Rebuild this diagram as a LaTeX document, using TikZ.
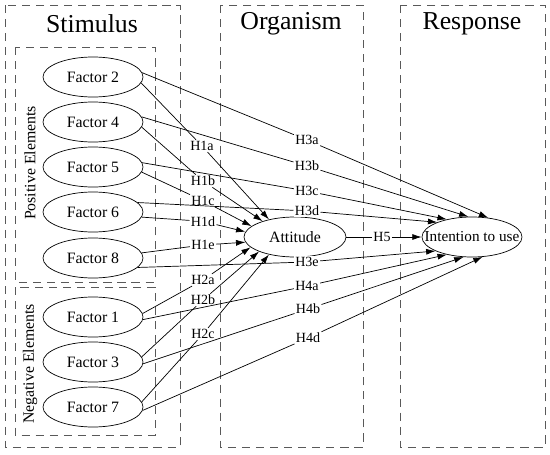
\documentclass[tikz,border=0pt]{standalone}
\usepackage{fontspec}
\setmainfont{Liberation Serif}
\usetikzlibrary{positioning,shapes.geometric,arrows.meta}

\begin{document}
\begin{tikzpicture}[>={Latex[length=2.8mm,width=1.8mm]},
    factor/.style={ellipse, draw, line width=0.6pt, minimum width=3cm, minimum height=1.2cm, inner sep=0pt, font=\fontsize{13.5}{16}\selectfont},
    hyp/.style={fill=white, inner sep=1pt, font=\fontsize{12}{14}\selectfont},
    region/.style={draw=black!65, dash pattern=on 7pt off 5pt, line width=0.7pt},
    heading/.style={font=\fontsize{22}{26}\selectfont},
    link/.style={->, line width=0.6pt}]
\useasboundingbox (0,0) rectangle (16.5,-13.65);

% Dashed regions
\draw [region] (0.15,-0.15) rectangle (5.4,-13.41);
\draw [region] (6.6,-0.15) rectangle (10.89,-13.41);
\draw [region] (12.0,-0.15) rectangle (16.35,-13.41);
\draw [region] (0.45,-1.41) rectangle (4.65,-8.46);
\draw [region] (0.45,-8.61) rectangle (4.65,-13.05);

% Headings
\node (stimulus) [heading] at (2.76,-0.72) {Stimulus};
\node (organism) [heading] at (8.73,-0.72) {Organism};
\node (response) [heading] at (14.16,-0.72) {Response};

\node (positive) [rotate=90, font=\fontsize{13.5}{16}\selectfont] at (0.9,-4.89) {Positive Elements};
\node (negative) [rotate=90, font=\fontsize{13.5}{16}\selectfont] at (0.9,-10.92) {Negative Elements};

% Main nodes
\node (f2) [factor] at (2.79,-2.31) {Factor 2};
\node (f4) [factor] at (2.79,-3.66) {Factor 4};
\node (f5) [factor] at (2.79,-5.01) {Factor 5};
\node (f6) [factor] at (2.79,-6.36) {Factor 6};
\node (f8) [factor] at (2.79,-7.74) {Factor 8};
\node (f1) [factor] at (2.79,-9.51) {Factor 1};
\node (f3) [factor] at (2.79,-10.86) {Factor 3};
\node (f7) [factor] at (2.79,-12.21) {Factor 7};

\node (att) [factor, minimum width=3.06cm] at (8.85,-7.11) {Attitude};
\node (int) [factor, label={[font=\fontsize{13}{15}\selectfont]center:Intention to use}] at (14.16,-7.11) {};

% Hypothesis labels
\node (h1a) [hyp] at (6.06,-4.38) {H1a};
\node (h1b) [hyp] at (6.09,-5.43) {H1b};
\node (h1c) [hyp] at (6.09,-6.02) {H1c};
\node (h1d) [hyp] at (6.09,-6.64) {H1d};
\node (h1e) [hyp] at (6.09,-7.35) {H1e};
\node (h2a) [hyp] at (6.09,-8.4) {H2a};
\node (h2b) [hyp] at (6.09,-9.0) {H2b};
\node (h2c) [hyp] at (6.09,-10.02) {H2c};

\node (h3a) [hyp] at (9.21,-4.2) {H3a};
\node (h3b) [hyp] at (9.21,-4.98) {H3b};
\node (h3c) [hyp] at (9.21,-5.73) {H3c};
\node (h3d) [hyp] at (9.21,-6.33) {H3d};
\node (h3e) [hyp] at (9.21,-7.86) {H3e};
\node (h4a) [hyp] at (9.21,-8.58) {H4a};
\node (h4b) [hyp] at (9.24,-9.27) {H4b};
\node (h4d) [hyp] at (9.24,-10.14) {H4d};
\node (h5) [hyp] at (11.46,-7.11) {H5};

% Stimulus -> Attitude
\draw [link] (f2.-7) -- (h1a) -- (att.146);
\draw [link] (f4.-6) -- (h1b) -- (att.154);
\draw [link] (f5.-6) -- (h1c) -- (att.166);
\draw [link] (f6.-6) -- (h1d) -- (att.174);
\draw [link] (f8.6) -- (h1e) -- (att.186);
\draw [link] (f1.4) -- (h2a) -- (att.193);
\draw [link] (f3.6) -- (h2b) -- (att.202);
\draw [link] (f7.6) -- (h2c) -- (att.214);

% Stimulus -> Intention to use
\draw [link] (f2.5) -- (h3a) -- (int.50);
\draw [link] (f4.6) -- (h3b) -- (int.100);
\draw [link] (f5.5) -- (h3c) -- (int.145);
\draw [link] (f6.12) -- (h3d) -- (int.157);
\draw [link] (f8.-12) -- (h3e) -- (int.201);
\draw [link] (f1.-3) -- (h4a) -- (int.215);
\draw [link] (f3.-2) -- (h4b) -- (int.247);
\draw [link] (f7.-4) -- (h4d) -- (int.298);

% Attitude -> Intention to use
\draw [link] (att) -- (h5) -- (int);
\end{tikzpicture}
\end{document}
